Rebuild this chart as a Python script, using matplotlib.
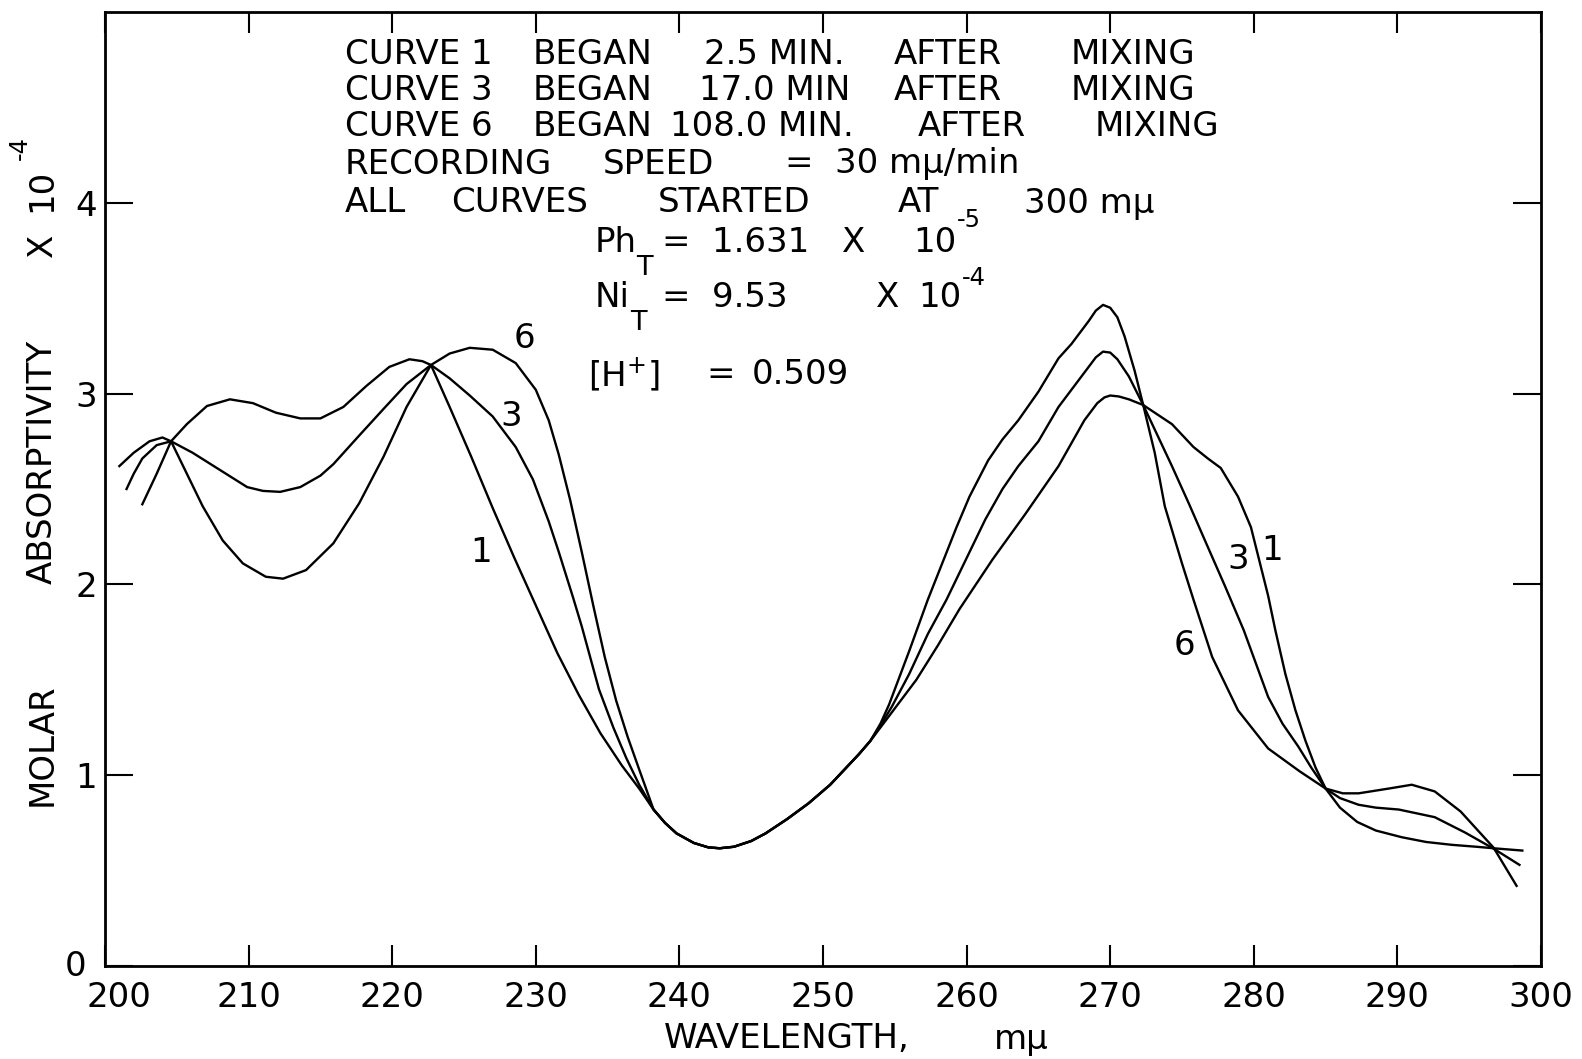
import matplotlib
matplotlib.use("Agg")
import matplotlib.pyplot as plt
import matplotlib.transforms as mtrans

# curve 1 (2.5 min after mixing)
wl1 = [202.6, 203.6, 204.6, 205.7, 207.1, 208.7, 210.3, 211.9, 213.6, 215.0, 216.6, 218.2, 219.8,
       221.2, 222.1, 222.7, 224.0, 225.5, 227.0, 228.5, 230.0, 231.5, 233.0, 234.5, 236.0, 237.2,
       238.2, 239.0, 239.8, 241.0, 242.0, 242.8, 243.8, 245.0, 246.0, 247.5, 249.0, 250.5, 251.5,
       252.5, 253.3, 254.0, 255.0, 256.5, 258.0, 259.5, 261.8, 264.1, 266.4, 267.3, 268.2, 269.1,
       269.6, 270.0, 270.6, 271.3, 272.3, 273.3, 274.3, 275.8, 276.8, 277.7, 278.9, 279.8, 280.3,
       281.0, 281.5, 282.2, 282.9, 283.6, 284.3, 285.0, 286.0, 287.2, 288.5, 290.3, 292.0, 293.8,
       295.5, 296.7, 298.7]
ab1 = [2.42, 2.58, 2.75, 2.84, 2.935, 2.97, 2.95, 2.90, 2.87, 2.87, 2.93, 3.04, 3.14,
       3.18, 3.17, 3.15, 2.93, 2.67, 2.40, 2.14, 1.89, 1.64, 1.42, 1.22, 1.05, 0.93,
       0.82, 0.75, 0.695, 0.645, 0.622, 0.617, 0.625, 0.655, 0.695, 0.77, 0.853, 0.95, 1.03,
       1.11, 1.18, 1.25, 1.35, 1.50, 1.68, 1.87, 2.13, 2.37, 2.62, 2.74, 2.86, 2.95,
       2.98, 2.99, 2.985, 2.97, 2.94, 2.89, 2.84, 2.72, 2.66, 2.61, 2.46, 2.30, 2.15,
       1.94, 1.76, 1.53, 1.34, 1.18, 1.04, 0.93, 0.83, 0.755, 0.71, 0.675, 0.65, 0.635,
       0.625, 0.617, 0.605]

# curve 3 (17.0 min after mixing)
wl3 = [201.5, 202.0, 202.6, 203.6, 204.6, 206.1, 208.0, 209.9, 211.0, 212.2, 213.6, 215.0, 215.9,
       217.7, 219.4, 221.0, 222.7, 224.0, 225.4, 227.0, 228.6, 229.8, 230.9, 231.6, 232.6, 233.2,
       234.4, 235.4, 236.3, 237.2, 238.2, 239.0, 239.8, 241.0, 242.0, 242.8, 243.8, 245.0, 246.0,
       247.5, 249.0, 250.5, 251.5, 252.5, 253.3, 254.0, 254.8, 256.0, 257.3, 258.6, 259.5, 261.3,
       262.5, 263.6, 265.0, 266.4, 267.3, 268.5, 269.0, 269.5, 270.0, 270.5, 271.3, 272.3, 273.3,
       274.3, 275.5, 276.6, 278.0, 279.3, 281.0, 282.0, 283.1, 284.0, 285.0, 286.0, 287.3, 288.5,
       290.1, 292.6, 294.7, 296.7, 298.5]
ab3 = [2.50, 2.58, 2.66, 2.73, 2.75, 2.69, 2.60, 2.51, 2.49, 2.485, 2.51, 2.57, 2.63,
       2.78, 2.92, 3.05, 3.15, 3.08, 2.99, 2.88, 2.72, 2.55, 2.33, 2.17, 1.93, 1.78,
       1.45, 1.25, 1.09, 0.95, 0.82, 0.75, 0.695, 0.645, 0.622, 0.617, 0.625, 0.655, 0.695,
       0.77, 0.853, 0.95, 1.03, 1.11, 1.18, 1.26, 1.36, 1.53, 1.74, 1.92, 2.06, 2.34,
       2.50, 2.62, 2.75, 2.93, 3.02, 3.14, 3.19, 3.22, 3.215, 3.18, 3.09, 2.94, 2.78,
       2.62, 2.42, 2.23, 1.99, 1.76, 1.41, 1.27, 1.15, 1.04, 0.93, 0.88, 0.845, 0.83,
       0.82, 0.78, 0.70, 0.615, 0.53]

# curve 6 (108.0 min after mixing)
wl6 = [201.0, 202.0, 203.1, 204.0, 204.6, 205.7, 206.8, 208.2, 209.6, 211.2, 212.4, 214.0, 215.9,
       217.7, 219.4, 221.0, 222.7, 224.0, 225.4, 227.0, 228.6, 230.0, 230.9, 231.6, 232.4, 233.2,
       234.0, 234.8, 235.6, 236.4, 237.2, 238.2, 239.0, 239.8, 241.0, 242.0, 242.8, 243.8, 245.0,
       246.0, 247.5, 249.0, 250.5, 251.5, 252.5, 253.3, 254.0, 254.6, 256.0, 257.3, 258.3, 259.3,
       260.2, 261.5, 262.5, 263.6, 265.0, 266.4, 267.3, 268.5, 269.0, 269.5, 270.0, 270.5, 271.0,
       271.7, 272.3, 273.1, 273.8, 275.0, 275.8, 277.1, 278.9, 281.0, 283.2, 285.0, 286.2, 287.3,
       289.4, 291.0, 292.6, 294.4, 296.7, 298.3]
ab6 = [2.62, 2.69, 2.75, 2.77, 2.75, 2.58, 2.41, 2.23, 2.11, 2.04, 2.03, 2.075, 2.215,
       2.425, 2.67, 2.93, 3.15, 3.21, 3.24, 3.23, 3.16, 3.02, 2.86, 2.68, 2.44, 2.17,
       1.89, 1.62, 1.39, 1.20, 1.03, 0.82, 0.75, 0.695, 0.645, 0.622, 0.617, 0.625, 0.655,
       0.695, 0.77, 0.853, 0.95, 1.03, 1.11, 1.18, 1.27, 1.37, 1.65, 1.92, 2.11, 2.30,
       2.46, 2.65, 2.76, 2.86, 3.01, 3.185, 3.26, 3.38, 3.435, 3.465, 3.45, 3.40, 3.30,
       3.12, 2.94, 2.69, 2.41, 2.11, 1.92, 1.62, 1.34, 1.14, 1.02, 0.93, 0.905, 0.905,
       0.93, 0.95, 0.915, 0.81, 0.62, 0.42]

xticks = [200, 210, 220, 230, 240, 250, 260, 270, 280, 290, 300]
yticks = [0, 1, 2, 3, 4]

W, H = 1582, 1059
FS = 24.5
fig = plt.figure(figsize=(W / 100, H / 100), dpi=100)
ax = fig.add_axes([105 / W, 1 - 966 / H, (1541 - 105) / W, (966 - 12) / H])

for wl, ab in [(wl1, ab1), (wl3, ab3), (wl6, ab6)]:
    ax.plot(wl, ab, color="black", lw=1.7, solid_joinstyle="round")

ax.set_xlim(200, 300)
ax.set_ylim(0, 5)
ax.set_xticks(xticks)
ax.set_yticks(yticks)
ax.set_xticklabels([str(t) for t in xticks], fontsize=FS)
ax.set_yticklabels([str(t) for t in yticks], fontsize=FS)
ax.tick_params(axis="x", direction="in", length=15, width=1.5, top=True, bottom=True, pad=11)
ax.tick_params(axis="y", direction="in", length=20, width=1.5, left=True, right=True, pad=6)
for s in ax.spines.values():
    s.set_linewidth(2.0)

# the "0" and "200" labels sit apart at the corner
t0 = ax.yaxis.get_major_ticks()[0].label1
t0.set_transform(t0.get_transform() + mtrans.ScaledTranslation(-0.10, 0.03, fig.dpi_scale_trans))
t200 = ax.xaxis.get_major_ticks()[0].label1
t200.set_transform(t200.get_transform() + mtrans.ScaledTranslation(0.14, 0, fig.dpi_scale_trans))

# curve labels
for x, y, s in [(229.2, 3.29, "6"), (228.3, 2.88, "3"), (226.2, 2.165, "1"),
                (278.9, 2.13, "3"), (281.3, 2.18, "1"), (275.2, 1.68, "6")]:
    ax.text(x, y, s, fontsize=FS, ha="center", va="center")


def ftext(X, Y, s, **kw):
    kw.setdefault("fontsize", FS)
    kw.setdefault("va", "center")
    fig.text(X / W, 1 - Y / H, s, **kw)


rows = [
    (54, [(345, "CURVE 1"), (533, "BEGAN"), (704, "2.5 MIN."), (894, "AFTER"), (1071, "MIXING")]),
    (91, [(345, "CURVE 3"), (533, "BEGAN"), (699, "17.0 MIN"), (894, "AFTER"), (1071, "MIXING")]),
    (127, [(345, "CURVE 6"), (533, "BEGAN"), (670, "108.0 MIN."), (918, "AFTER"), (1095, "MIXING")]),
    (164, [(345, "RECORDING"), (603, "SPEED"), (785, "=  30 mμ/min")]),
    (203, [(345, "ALL"), (451, "CURVES"), (658, "STARTED"), (898, "AT"), (1024, "300 mμ")]),
]
for Y, words in rows:
    for X, w in words:
        ftext(X, Y, w)

ftext(595, 242, "Ph")
ftext(636, 268, "T", fontsize=FS - 5)
ftext(662, 242, "=  1.631")
ftext(842, 242, "X")
ftext(913, 242, "10")
ftext(957, 220, "-5", fontsize=FS - 7)

ftext(595, 298, "Ni")
ftext(630, 323, "T", fontsize=FS - 5)
ftext(662, 298, "=  9.53")
ftext(876, 298, "X")
ftext(918, 298, "10")
ftext(962, 278, "-4", fontsize=FS - 7)

ftext(588, 375, "[H$^{+}$]")
ftext(706, 375, "=")
ftext(752, 375, "0.509")

# axis titles
ftext(664, 1039, "WAVELENGTH,")
ftext(994, 1039, "mμ")
ftext(42, 745, "MOLAR", rotation=90, ha="center")
ftext(42, 462, "ABSORPTIVITY", rotation=90, ha="center")
ftext(42, 245, "X", rotation=90, ha="center")
ftext(42, 190, "10", rotation=90, ha="center")
ftext(20, 148, "-4", rotation=90, ha="center", fontsize=FS - 7)

fig.savefig("out.png", dpi=100, facecolor="white")
